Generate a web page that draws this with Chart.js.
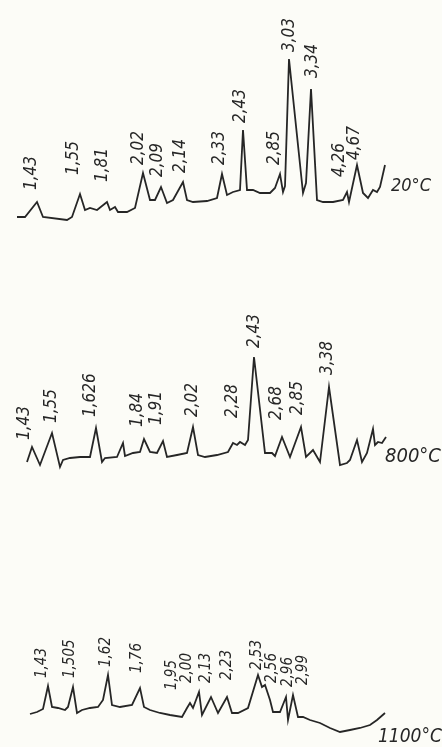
<!DOCTYPE html>
<html>
<head>
<meta charset="utf-8">
<script src="https://cdn.jsdelivr.net/npm/chart.js@4/dist/chart.umd.min.js"></script>
<style>
  body { margin: 0; background: #fcfcf7; width: 442px; height: 747px; overflow: hidden; position: relative; }
  canvas { position: absolute; left: 0; }
</style>
</head>
<body>
<canvas id="c20" width="442" height="240" style="top:0px"></canvas>
<canvas id="c800" width="442" height="190" style="top:290px"></canvas>
<canvas id="c1100" width="442" height="147" style="top:600px"></canvas>
<script>
// 20 °C trace: position along the record, intensity above baseline
var pos20 = [17,25,37,43,67,72,80,85,90,97,107,110,115,118,127,135,143,150,155,161,167,173,183,187,193,207,217,222,227,233,240,243,247,253,260,270,275,280,283,285,289,303,306,311,317,323,333,343,347,349,357,363,368,373,377,380,385];
var int20 = [3,3,18,3,0,3,26,10,12,10,18,10,13,8,8,12,47,20,20,33,17,20,38,20,18,19,22,46,25,28,30,90,30,30,27,27,32,46,28,34,161,27,37,131,20,18,18,20,28,18,55,27,22,30,28,33,55];
var peaks20 = ["1,43","1,55","1,81","2,02","2,09","2,14","2,33","2,43","2,85","3,03","3,34","4,26","4,67"];
var peakPos20 = [32,74,103,139,158,181,220,241,275,290,313,340,355];
var peakLvl20 = [30,45,38,55,43,47,55,97,55,168,142,43,60];

// 800 °C trace
var pos800 = [27,32,40,52,60,63,70,80,90,96,102,105,117,123,125,133,140,144,150,157,163,167,177,187,193,198,205,217,228,233,237,240,245,248,254,265,272,275,282,290,301,306,313,320,329,340,347,350,357,362,367,373,375,378,382,386];
var int800 = [-2,13,-5,27,-7,0,2,3,3,32,-2,2,3,17,4,7,8,21,8,7,19,3,5,7,33,5,3,5,8,17,15,18,15,20,103,7,7,4,23,3,33,3,10,-2,73,-5,-3,0,20,-2,7,31,15,18,17,23];
var peaks800 = ["1,43","1,55","1,626","1,84","1,91","2,02","2,28","2,43","2,68","2,85","3,38"];
var peakPos800 = [25,52,91,138,157,193,233,255,277,298,328];
var peakLvl800 = [20,37,43,33,35,43,42,112,40,45,85];

// 1100 °C trace
var pos1100 = [30,37,43,48,52,58,65,68,73,77,82,90,98,103,108,112,120,132,140,144,150,160,170,182,187,190,193,199,202,211,218,227,232,238,248,258,262,265,270,273,280,286,288,293,298,303,310,320,330,340,350,360,370,377,385];
var int1100 = [-2,0,3,26,5,4,2,5,25,-1,2,4,5,12,37,7,5,7,24,5,2,-1,-3,-5,4,9,4,20,-3,15,-1,15,-1,-1,4,37,25,27,12,0,0,15,-8,17,-5,-5,-8,-11,-16,-20,-18,-16,-13,-8,-1];
var peaks1100 = ["1,43","1,505","1,62","1,76","1,95","2,00","2,13","2,23","2,53","2,56","2,96","2,99"];
var peakPos1100 = [42,70,106,137,172,187,206,227,257,272,288,303];
var peakLvl1100 = [34,34,45,39,22,29,29,32,42,29,25,27];

var FONT = '"DejaVu Sans Condensed", "DejaVu Sans", sans-serif';

var peakLabels = {
  id: 'peakLabels',
  afterDatasetsDraw: function (chart, args, opts) {
    var ctx = chart.ctx, xs = chart.scales.x, ys = chart.scales.y;
    ctx.save();
    ctx.fillStyle = '#262626';
    ctx.font = 'oblique ' + opts.size + 'px ' + FONT;
    ctx.textAlign = 'left';
    ctx.textBaseline = 'middle';
    for (var i = 0; i < opts.labels.length; i++) {
      ctx.save();
      ctx.translate(xs.getPixelForValue(opts.pos[i]), ys.getPixelForValue(opts.lvl[i]));
      ctx.rotate(-Math.PI / 2);
      ctx.fillText(opts.labels[i], 0, 0);
      ctx.restore();
    }
    ctx.font = 'oblique ' + opts.tempSize + 'px ' + FONT;
    ctx.fillText(opts.temp, xs.getPixelForValue(opts.tempPos), ys.getPixelForValue(opts.tempLvl));
    ctx.restore();
  }
};

function makeChart(id, xs, ys, yMin, yMax, lbl) {
  var pts = [];
  for (var i = 0; i < xs.length; i++) pts.push({x: xs[i], y: ys[i]});
  return new Chart(document.getElementById(id), {
    type: 'line',
    data: { datasets: [{ data: pts, borderColor: '#262626', borderWidth: 1.8, pointRadius: 0, tension: 0, fill: false }] },
    options: {
      responsive: false,
      animation: false,
      layout: { padding: 0 },
      scales: {
        x: { type: 'linear', min: 0, max: 442, display: false },
        y: { min: yMin, max: yMax, display: false }
      },
      plugins: { legend: { display: false }, tooltip: { enabled: false }, peakLabels: lbl }
    },
    plugins: [peakLabels]
  });
}

makeChart('c20', pos20, int20, -20, 220,
  { labels: peaks20, pos: peakPos20, lvl: peakLvl20, size: 17, temp: '20°C', tempPos: 391, tempLvl: 34, tempSize: 18 });
makeChart('c800', pos800, int800, -20, 170,
  { labels: peaks800, pos: peakPos800, lvl: peakLvl800, size: 17, temp: '800°C', tempPos: 385, tempLvl: 3, tempSize: 20 });
makeChart('c1100', pos1100, int1100, -35, 112,
  { labels: peaks1100, pos: peakPos1100, lvl: peakLvl1100, size: 15, temp: '1100°C', tempPos: 378, tempLvl: -25, tempSize: 19 });
</script>
</body>
</html>
